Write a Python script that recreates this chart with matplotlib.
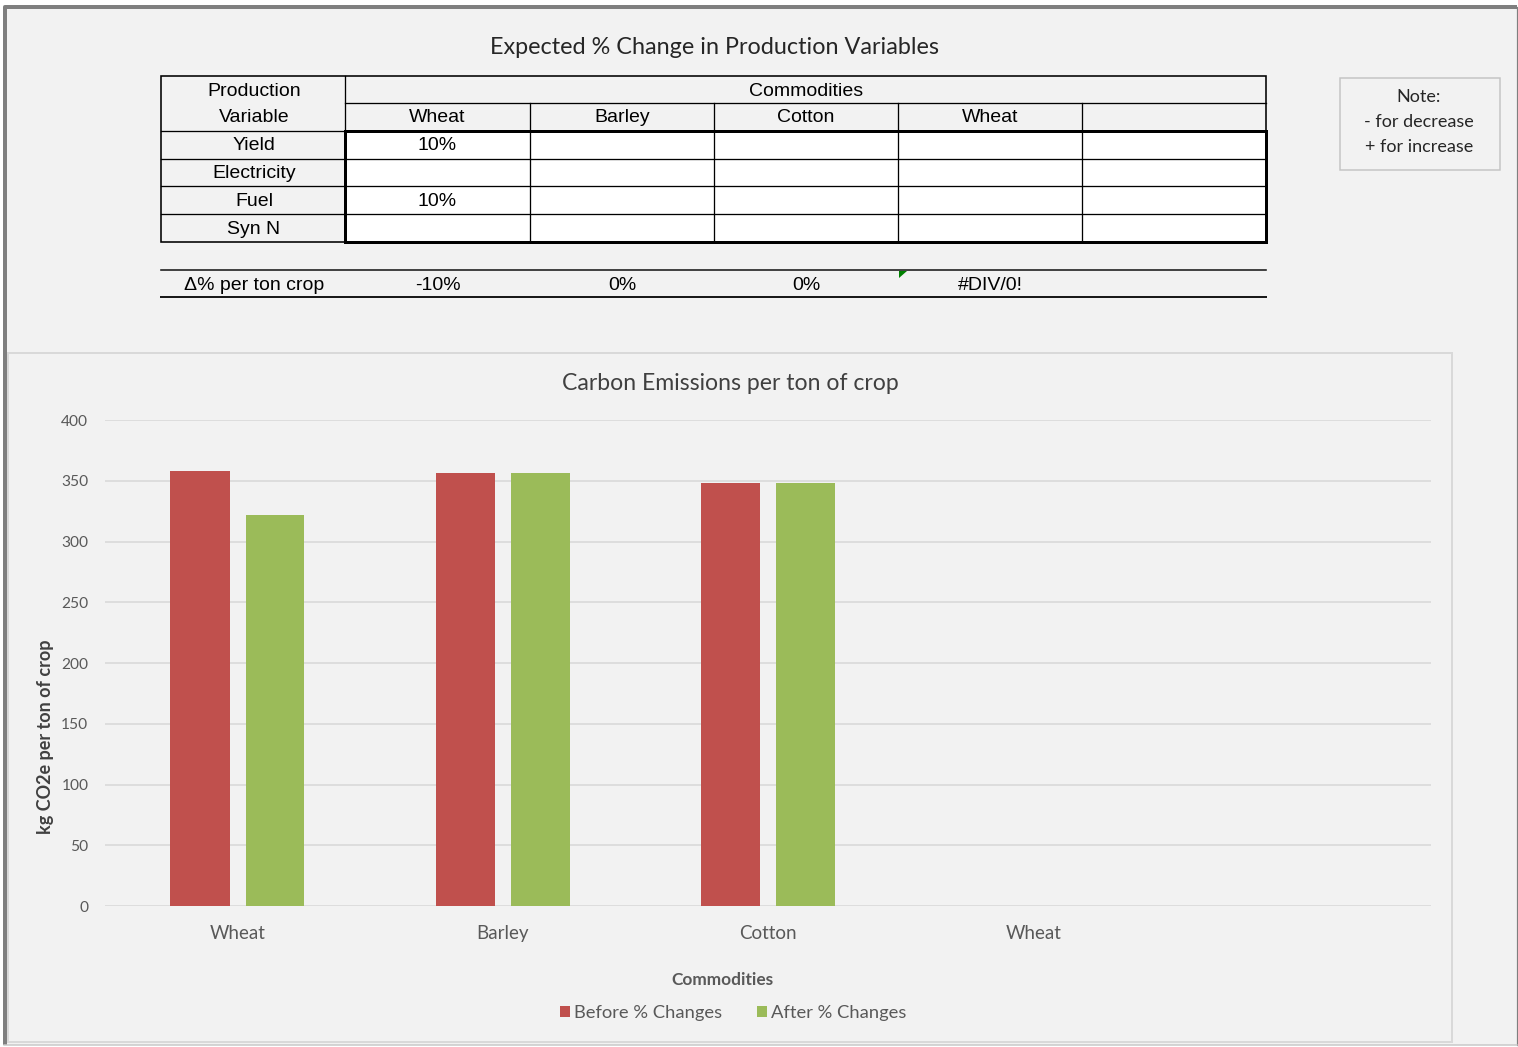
import matplotlib.pyplot as plt
import numpy as np
from matplotlib.patches import Rectangle, Polygon

W, H = 1518, 1047

# sheet contents
commodities = ["Wheat", "Barley", "Cotton", "Wheat", ""]
production_vars = ["Yield", "Electricity", "Fuel", "Syn N"]
pct_changes = [
    ["10%", "", "", "", ""],
    ["", "", "", "", ""],
    ["10%", "", "", "", ""],
    ["", "", "", "", ""],
]
delta_label = "\u0394% per ton crop"
delta_per_ton = ["-10%", "0%", "0%", "#DIV/0!", ""]
note_lines = ["Note:", "- for decrease", "+ for increase"]

# kg CO2e per ton of crop
before_vals = [358.0, 356.6, 348.1, np.nan, np.nan]
after_vals = [322.2, 356.6, 348.1, np.nan, np.nan]
y_ticks = [0, 50, 100, 150, 200, 250, 300, 350, 400]
series_names = ["Before % Changes", "After % Changes"]

RED = "#c0504d"
GREEN = "#9bbb59"
BG = "#f2f2f2"
CHART_FONT = "Lato"
TABLE_FONT = "Liberation Sans"

fig = plt.figure(figsize=(W / 100, H / 100), dpi=100, facecolor="white")

# overlay in pixel coordinates for the sheet part
ov = fig.add_axes([0, 0, 1, 1])
ov.set_xlim(0, W)
ov.set_ylim(H, 0)
ov.axis("off")

def px(v):
    return v * 0.72

ov.add_patch(Rectangle((3, 5), 1514, 1040, facecolor=BG, edgecolor="none"))
ov.plot([4.5, 4.5, 1517], [1045, 7, 7], color="#7f7f7f", lw=px(4), solid_capstyle="butt")
ov.plot([1517, 1517], [7, 1045], color="#7f7f7f", lw=px(1.2))
ov.plot([4, 1517], [1045, 1045], color="#c8c8c8", lw=px(1.5))

ov.text(714, 48, "Expected % Change in Production Variables", ha="center", va="center",
        fontsize=16.8, family=CHART_FONT, color="#262626")

# table grid
col_edges = [161, 345, 530, 714, 898, 1082, 1266]
row_edges = [76, 103, 131, 159, 186, 214, 242]
ov.add_patch(Rectangle((345, 131), 1266 - 345, 242 - 131, facecolor="white", edgecolor="none"))
lc = "#000000"
# horizontal rules
ov.plot([345, 1266], [103, 103], color=lc, lw=px(1.3))
for y in row_edges[2:-1]:
    ov.plot([161, 1266], [y, y], color=lc, lw=px(1.3))
# vertical rules
ov.plot([345, 345], [76, 242], color=lc, lw=px(1.3))
for x in col_edges[2:-1]:
    ov.plot([x, x], [103, 242], color=lc, lw=px(1.3))
ov.add_patch(Rectangle((161, 76), 1266 - 161, 242 - 76, facecolor="none", edgecolor=lc, lw=px(1.6)))
ov.add_patch(Rectangle((345, 131), 1266 - 345, 242 - 131, facecolor="none", edgecolor=lc, lw=px(3)))

tkw = dict(ha="center", va="center", fontsize=14, family=TABLE_FONT, color="black")
ov.text(254, 91, "Production", **tkw)
ov.text(254, 118, "Variable", **tkw)
ov.text(806, 91, "Commodities", **tkw)
for i, name in enumerate(commodities):
    cx = (col_edges[i + 1] + col_edges[i + 2]) / 2
    ov.text(cx, 118, name, **tkw)
for r, var in enumerate(production_vars):
    cy = (row_edges[r + 2] + row_edges[r + 3]) / 2 + 1
    ov.text(254, cy, var, **tkw)
    for c, val in enumerate(pct_changes[r]):
        cx = (col_edges[c + 1] + col_edges[c + 2]) / 2
        ov.text(cx, cy, val, **tkw)

# summary row
ov.plot([161, 1266], [270, 270], color="#1a1a1a", lw=px(1.6))
ov.plot([161, 1266], [297, 297], color="#1a1a1a", lw=px(2))
ov.text(254, 285, delta_label, **tkw)
for c, val in enumerate(delta_per_ton):
    cx = (col_edges[c + 1] + col_edges[c + 2]) / 2
    ov.text(cx, 285, val, **tkw)
ov.add_patch(Polygon([(899, 271), (907, 271), (899, 278)], closed=True,
                     facecolor="#008000", edgecolor="none"))

# note box
ov.add_patch(Rectangle((1340, 78), 160, 92, facecolor=BG, edgecolor="#c4c4c4", lw=px(1.5)))
for k, line in enumerate(note_lines):
    ov.text(1419, 97 + k * 25, line, ha="center", va="center", fontsize=13,
            family=CHART_FONT, color="#262626")

# chart area
ov.add_patch(Rectangle((8, 353), 1444, 689, facecolor=BG, edgecolor="#d9d9d9", lw=px(2)))
ov.text(730, 383, "Carbon Emissions per ton of crop", ha="center", va="center",
        fontsize=16.6, family=CHART_FONT, color="#404040")

ax = fig.add_axes([105 / W, 1 - 906 / H, (1431 - 105) / W, (906 - 420) / H])
ax.patch.set_alpha(0)
x = np.arange(len(commodities))
b1 = ax.bar(x - 0.141, before_vals, width=0.225, color=RED, label=series_names[0], zorder=3)
b2 = ax.bar(x + 0.141, after_vals, width=0.222, color=GREEN, label=series_names[1], zorder=3)
ax.set_xlim(-0.5, len(commodities) - 0.5)
ax.set_ylim(0, 400)
ax.set_yticks(y_ticks)
ax.set_xticks(x)
ax.set_xticklabels(commodities)
ax.yaxis.grid(True, color="#d9d9d9", lw=px(1.6), zorder=0)
ax.set_axisbelow(True)
for s in ax.spines.values():
    s.set_visible(False)
ax.tick_params(axis="y", length=0, pad=12, labelsize=11.2, labelcolor="#595959")
ax.tick_params(axis="x", length=0, pad=14, labelsize=13.5, labelcolor="#595959")
for lab in ax.get_xticklabels() + ax.get_yticklabels():
    lab.set_family(CHART_FONT)

fig.text(46 / W, 1 - 737 / H, "kg CO2e per ton of crop", rotation=90, ha="center", va="center",
         fontsize=13, fontweight="bold", family=CHART_FONT, color="#404040")
fig.text(722 / W, 1 - 980 / H, "Commodities", ha="center", va="center",
         fontsize=12.4, fontweight="bold", family=CHART_FONT, color="#595959")

leg = fig.legend(handles=[b1, b2], loc="center", bbox_to_anchor=(733 / W, 1 - 1013 / H),
                 ncol=2, frameon=False, handlelength=0.55, handleheight=0.55,
                 handletextpad=0.2, columnspacing=1.9,
                 prop={"family": CHART_FONT, "size": 13.2})
for t in leg.get_texts():
    t.set_color("#595959")

fig.savefig("out.png", dpi=100, facecolor="white")
